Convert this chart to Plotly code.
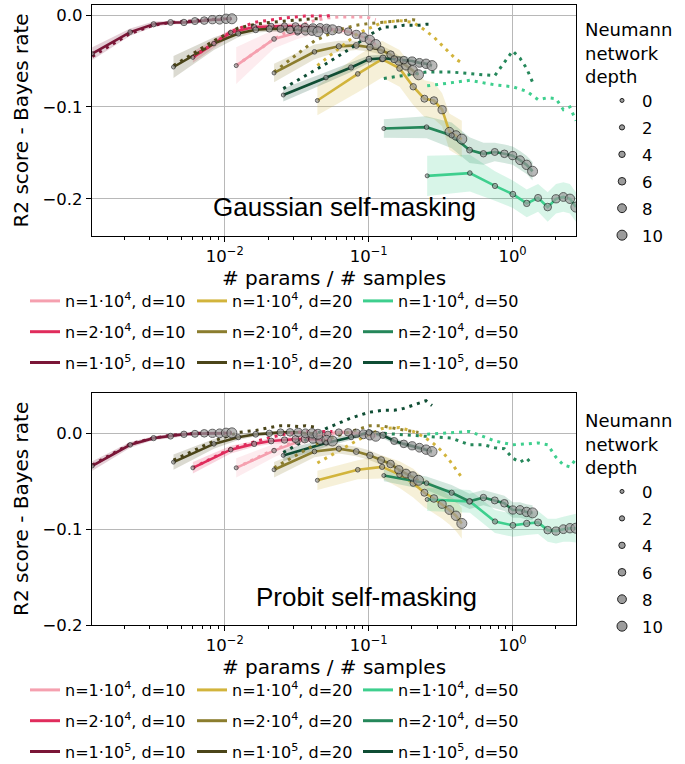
import plotly.graph_objects as go

# ---------------- data ----------------
DEPTHS = [0, 1, 2, 3, 4, 5, 6, 7, 8, 9, 10]
LEGEND_DEPTHS = [0, 2, 4, 6, 8, 10]

SERIES_LABELS = [
    "n=1·10<sup>4</sup>, d=10", "n=2·10<sup>4</sup>, d=10", "n=1·10<sup>5</sup>, d=10",
    "n=1·10<sup>4</sup>, d=20", "n=2·10<sup>4</sup>, d=20", "n=1·10<sup>5</sup>, d=20",
    "n=1·10<sup>4</sup>, d=50", "n=2·10<sup>4</sup>, d=50", "n=1·10<sup>5</sup>, d=50",
]
SERIES_COLORS = [
    "#f5a0af", "#e02c5c", "#7a1637",
    "#d2b43c", "#8b7d2e", "#4b4519",
    "#3ecf8e", "#25875a", "#0f4d34",
]

# x: # params / # samples for depths 0..10
X_D10_N1E4 = [0.012, 0.022, 0.032, 0.042, 0.052, 0.062, 0.072, 0.082, 0.092, 0.102, 0.112]
X_D10_N2E4 = [0.006, 0.011, 0.016, 0.021, 0.026, 0.031, 0.036, 0.041, 0.046, 0.051, 0.056]
X_D10_N1E5 = [0.0012, 0.0022, 0.0032, 0.0042, 0.0052, 0.0062, 0.0072, 0.0082, 0.0092, 0.0102, 0.0112]
X_D20_N1E4 = [0.044, 0.084, 0.124, 0.164, 0.204, 0.244, 0.284, 0.324, 0.364, 0.404, 0.444]
X_D20_N2E4 = [0.022, 0.042, 0.062, 0.082, 0.102, 0.122, 0.142, 0.162, 0.182, 0.202, 0.222]
X_D20_N1E5 = [0.0044, 0.0084, 0.0124, 0.0164, 0.0204, 0.0244, 0.0284, 0.0324, 0.0364, 0.0404, 0.0444]
X_D50_N1E4 = [0.255, 0.505, 0.755, 1.005, 1.255, 1.505, 1.755, 2.005, 2.255, 2.505, 2.755]
X_D50_N2E4 = [0.1275, 0.2525, 0.3775, 0.5025, 0.6275, 0.7525, 0.8775, 1.0025, 1.1275, 1.2525, 1.3775]
X_D50_N1E5 = [0.0255, 0.0505, 0.0755, 0.1005, 0.1255, 0.1505, 0.1755, 0.2005, 0.2255, 0.2505, 0.2755]

# Gaussian self-masking: Neumann network (solid) and dotted reference curves
G_D10_N1E4 = [-0.055, -0.026, -0.019, -0.016, -0.015, -0.016, -0.018, -0.021, -0.024, -0.027, -0.032]
G_D10_N2E4 = [-0.046, -0.019, -0.013, -0.012, -0.012, -0.012, -0.013, -0.014, -0.014, -0.015, -0.016]
G_D10_N1E5 = [-0.042, -0.0185, -0.010, -0.008, -0.008, -0.0065, -0.006, -0.005, -0.005, -0.004, -0.004]
G_D20_N1E4 = [-0.093, -0.064, -0.048, -0.058, -0.078, -0.091, -0.093, -0.103, -0.127, -0.131, -0.135]
G_D20_N2E4 = [-0.063, -0.040, -0.034, -0.033, -0.035, -0.038, -0.043, -0.050, -0.055, -0.060, -0.065]
G_D20_N1E5 = [-0.0565, -0.031, -0.020, -0.016, -0.015, -0.015, -0.016, -0.016, -0.017, -0.017, -0.018]
G_D50_N1E4 = [-0.175, -0.172, -0.186, -0.195, -0.205, -0.199, -0.209, -0.200, -0.198, -0.200, -0.209]
G_D50_N2E4 = [-0.1235, -0.122, -0.131, -0.147, -0.151, -0.149, -0.151, -0.153, -0.158, -0.163, -0.170]
G_D50_N1E5 = [-0.087, -0.068, -0.057, -0.048, -0.047, -0.048, -0.049, -0.050, -0.052, -0.053, -0.055]

G_ERR_D10_N1E4 = [0.020, 0.010, 0.007, 0.005, 0.004, 0.004, 0.004, 0.004, 0.005, 0.005, 0.006]
G_ERR_D10_N2E4 = [0.006, 0.004, 0.003, 0.003, 0.003, 0.003, 0.003, 0.003, 0.003, 0.003, 0.003]
G_ERR_D10_N1E5 = [0.007, 0.004, 0.003, 0.002, 0.002, 0.002, 0.002, 0.002, 0.002, 0.002, 0.002]
G_ERR_D20_N1E4 = [0.016, 0.020, 0.020, 0.020, 0.020, 0.020, 0.020, 0.018, 0.020, 0.020, 0.020]
G_ERR_D20_N2E4 = [0.010, 0.008, 0.006, 0.005, 0.005, 0.005, 0.005, 0.006, 0.006, 0.006, 0.006]
G_ERR_D20_N1E5 = [0.012, 0.007, 0.004, 0.003, 0.003, 0.003, 0.003, 0.003, 0.003, 0.003, 0.003]
G_ERR_D50_N1E4 = [0.022, 0.020, 0.016, 0.015, 0.015, 0.015, 0.016, 0.016, 0.016, 0.016, 0.016]
G_ERR_D50_N2E4 = [0.010, 0.012, 0.014, 0.014, 0.012, 0.010, 0.010, 0.010, 0.010, 0.010, 0.010]
G_ERR_D50_N1E5 = [0.007, 0.006, 0.005, 0.004, 0.004, 0.004, 0.004, 0.004, 0.004, 0.004, 0.004]

GD_D10_N1E4 = [-0.055, -0.026, -0.012, -0.006, -0.003, -0.002, -0.002, -0.002, -0.002, -0.003, -0.005]
GD_D10_N2E4 = [-0.046, -0.018, -0.008, -0.005, -0.003, -0.002, -0.001, -0.001, -0.001, -0.001, 0.000]
GD_D10_N1E5 = [-0.045, -0.020, -0.011, -0.008, -0.007, -0.006, -0.005, -0.005, -0.004, -0.004, -0.004]
GD_D20_N1E4 = [-0.055, -0.020, -0.008, -0.006, -0.008, -0.016, -0.024, -0.033, -0.042, -0.048, -0.052]
GD_D20_N2E4 = [-0.062, -0.028, -0.016, -0.011, -0.009, -0.008, -0.007, -0.006, -0.005, -0.005, -0.006]
GD_D20_N1E5 = [-0.055, -0.028, -0.014, -0.010, -0.008, -0.007, -0.006, -0.005, -0.004, -0.004, -0.004]
GD_D50_N1E4 = [-0.077, -0.071, -0.076, -0.078, -0.083, -0.092, -0.090, -0.091, -0.103, -0.100, -0.115]
GD_D50_N2E4 = [-0.069, -0.062, -0.062, -0.064, -0.065, -0.066, -0.052, -0.039, -0.047, -0.058, -0.073]
GD_D50_N1E5 = [-0.080, -0.053, -0.036, -0.022, -0.013, -0.013, -0.011, -0.011, -0.011, -0.010, -0.010]

# Probit self-masking
P_D10_N1E4 = [-0.036, -0.018, -0.009, -0.003, -0.001, 0.001, 0.001, 0.000, -0.001, -0.002, -0.003]
P_D10_N2E4 = [-0.036, -0.017, -0.011, -0.008, -0.007, -0.006, -0.006, -0.006, -0.007, -0.007, -0.008]
P_D10_N1E5 = [-0.034, -0.012, -0.005, -0.003, -0.001, -0.0005, 0.000, 0.000, 0.000, 0.0005, 0.0005]
P_D20_N1E4 = [-0.049, -0.038, -0.035, -0.043, -0.052, -0.062, -0.068, -0.074, -0.080, -0.086, -0.094]
P_D20_N2E4 = [-0.038, -0.019, -0.016, -0.019, -0.023, -0.028, -0.032, -0.038, -0.042, -0.045, -0.049]
P_D20_N1E5 = [-0.030, -0.011, -0.004, -0.001, 0.000, 0.001, 0.001, 0.001, 0.000, 0.000, -0.001]
P_D50_N1E4 = [-0.069, -0.071, -0.092, -0.096, -0.094, -0.093, -0.101, -0.102, -0.100, -0.099, -0.099]
P_D50_N2E4 = [-0.044, -0.052, -0.062, -0.071, -0.067, -0.070, -0.073, -0.080, -0.080, -0.082, -0.083]
P_D50_N1E5 = [-0.023, -0.010, -0.004, 0.001, -0.002, -0.008, -0.011, -0.013, -0.015, -0.017, -0.019]

P_ERR_D10_N1E4 = [0.010, 0.007, 0.005, 0.004, 0.003, 0.003, 0.003, 0.003, 0.003, 0.003, 0.003]
P_ERR_D10_N2E4 = [0.006, 0.004, 0.003, 0.003, 0.003, 0.003, 0.003, 0.003, 0.003, 0.003, 0.003]
P_ERR_D10_N1E5 = [0.005, 0.003, 0.002, 0.002, 0.002, 0.002, 0.002, 0.002, 0.002, 0.002, 0.002]
P_ERR_D20_N1E4 = [0.010, 0.010, 0.012, 0.014, 0.015, 0.015, 0.015, 0.015, 0.015, 0.016, 0.016]
P_ERR_D20_N2E4 = [0.008, 0.006, 0.005, 0.005, 0.005, 0.005, 0.005, 0.005, 0.005, 0.005, 0.005]
P_ERR_D20_N1E5 = [0.008, 0.005, 0.003, 0.002, 0.002, 0.002, 0.002, 0.002, 0.002, 0.002, 0.002]
P_ERR_D50_N1E4 = [0.012, 0.012, 0.012, 0.012, 0.012, 0.012, 0.012, 0.013, 0.013, 0.014, 0.015]
P_ERR_D50_N2E4 = [0.006, 0.007, 0.008, 0.008, 0.008, 0.008, 0.008, 0.008, 0.008, 0.008, 0.008]
P_ERR_D50_N1E5 = [0.006, 0.004, 0.003, 0.003, 0.003, 0.003, 0.003, 0.003, 0.003, 0.003, 0.003]

PD_D10_N1E4 = [-0.036, -0.017, -0.008, -0.003, 0.000, 0.001, 0.001, 0.000, 0.000, -0.001, -0.002]
PD_D10_N2E4 = [-0.036, -0.016, -0.009, -0.004, -0.001, 0.001, 0.002, 0.002, 0.002, 0.002, 0.002]
PD_D10_N1E5 = [-0.033, -0.011, -0.005, -0.002, -0.001, 0.000, 0.000, 0.000, 0.000, 0.000, 0.000]
PD_D20_N1E4 = [-0.031, -0.007, 0.005, 0.006, 0.002, -0.004, -0.011, -0.019, -0.028, -0.037, -0.046]
PD_D20_N2E4 = [-0.036, -0.012, -0.002, 0.004, 0.008, 0.008, 0.006, 0.004, 0.003, 0.002, 0.001]
PD_D20_N1E5 = [-0.028, -0.008, 0.001, 0.003, 0.006, 0.008, 0.008, 0.007, 0.008, 0.007, 0.006]
PD_D50_N1E4 = [-0.001, 0.002, -0.008, -0.012, -0.011, -0.010, -0.012, -0.025, -0.033, -0.035, -0.027]
PD_D50_N2E4 = [0.000, -0.003, -0.005, -0.012, -0.012, -0.015, -0.016, -0.026, -0.030, -0.026, -0.033]
PD_D50_N1E5 = [-0.020, 0.005, 0.016, 0.022, 0.024, 0.024, 0.026, 0.029, 0.032, 0.034, 0.029]

X_TICK_VALS = [0.01, 0.1, 1]
X_TICK_TEXT = ["10<sup>−2</sup>", "10<sup>−1</sup>", "10<sup>0</sup>"]
X_MINOR_TICKS = [m * 10.0 ** e for e in (-3, -2, -1, 0) for m in range(2, 10)]
Y_TICK_VALS = [0.0, -0.1, -0.2]

PANELS = [
    dict(title="Gaussian self-masking",
         solid=[G_D10_N1E4, G_D10_N2E4, G_D10_N1E5, G_D20_N1E4, G_D20_N2E4, G_D20_N1E5, G_D50_N1E4, G_D50_N2E4, G_D50_N1E5],
         err=[G_ERR_D10_N1E4, G_ERR_D10_N2E4, G_ERR_D10_N1E5, G_ERR_D20_N1E4, G_ERR_D20_N2E4, G_ERR_D20_N1E5, G_ERR_D50_N1E4, G_ERR_D50_N2E4, G_ERR_D50_N1E5],
         dotted=[GD_D10_N1E4, GD_D10_N2E4, GD_D10_N1E5, GD_D20_N1E4, GD_D20_N2E4, GD_D20_N1E5, GD_D50_N1E4, GD_D50_N2E4, GD_D50_N1E5]),
    dict(title="Probit self-masking",
         solid=[P_D10_N1E4, P_D10_N2E4, P_D10_N1E5, P_D20_N1E4, P_D20_N2E4, P_D20_N1E5, P_D50_N1E4, P_D50_N2E4, P_D50_N1E5],
         err=[P_ERR_D10_N1E4, P_ERR_D10_N2E4, P_ERR_D10_N1E5, P_ERR_D20_N1E4, P_ERR_D20_N2E4, P_ERR_D20_N1E5, P_ERR_D50_N1E4, P_ERR_D50_N2E4, P_ERR_D50_N1E5],
         dotted=[PD_D10_N1E4, PD_D10_N2E4, PD_D10_N1E5, PD_D20_N1E4, PD_D20_N2E4, PD_D20_N1E5, PD_D50_N1E4, PD_D50_N2E4, PD_D50_N1E5]),
]
XS = [X_D10_N1E4, X_D10_N2E4, X_D10_N1E5, X_D20_N1E4, X_D20_N2E4, X_D20_N1E5, X_D50_N1E4, X_D50_N2E4, X_D50_N1E5]

# ---------------- styling ----------------
FONT = "DejaVu Sans"
MARKER_FILL = "#9c9c9c"
MARKER_EDGE = "#222222"


def msize(depth):
    return 4 + 0.6 * depth


def rgba(hexc, a):
    h = hexc.lstrip("#")
    return "rgba(%d,%d,%d,%.2f)" % (int(h[0:2], 16), int(h[2:4], 16), int(h[4:6], 16), a)


fig = go.Figure()

for p, panel in enumerate(PANELS):
    xa = "x" if p == 0 else "x2"
    ya = "y" if p == 0 else "y2"
    # bands
    for i in range(9):
        xs, ys, es = XS[i], panel["solid"][i], panel["err"][i]
        upper = [y + e for y, e in zip(ys, es)]
        lower = [y - e for y, e in zip(ys, es)]
        fig.add_trace(go.Scatter(x=xs + xs[::-1], y=upper + lower[::-1], fill="toself",
                                 fillcolor=rgba(SERIES_COLORS[i], 0.2), line=dict(width=0),
                                 mode="lines", showlegend=False, hoverinfo="skip",
                                 xaxis=xa, yaxis=ya))
    # solid lines
    for i in range(9):
        fig.add_trace(go.Scatter(x=XS[i], y=panel["solid"][i], mode="lines",
                                 line=dict(color=SERIES_COLORS[i], width=2.6),
                                 showlegend=False, xaxis=xa, yaxis=ya))
    # dotted lines
    for i in range(9):
        fig.add_trace(go.Scatter(x=XS[i], y=panel["dotted"][i], mode="lines",
                                 line=dict(color=SERIES_COLORS[i], width=3, dash="3px,5px"),
                                 showlegend=False, xaxis=xa, yaxis=ya))
    # depth markers
    for i in range(9):
        fig.add_trace(go.Scatter(x=XS[i], y=panel["solid"][i], mode="markers",
                                 marker=dict(size=[msize(d) for d in DEPTHS], color=MARKER_FILL,
                                             line=dict(color=MARKER_EDGE, width=1)),
                                 showlegend=False, xaxis=xa, yaxis=ya))

    # legend entries (3 columns by d)
    for i in range(9):
        leg_idx = p * 3 + i // 3 + 1
        fig.add_trace(go.Scatter(x=[None], y=[None], mode="lines",
                                 line=dict(color=SERIES_COLORS[i], width=3),
                                 name=SERIES_LABELS[i],
                                 legend="legend" if leg_idx == 1 else "legend%d" % leg_idx,
                                 legendgroup="s%d_%d" % (p, i), showlegend=True,
                                 xaxis=xa, yaxis=ya))
    # depth legend
    for d in LEGEND_DEPTHS:
        fig.add_trace(go.Scatter(x=[None], y=[None], mode="markers",
                                 marker=dict(size=msize(d), color=MARKER_FILL,
                                             line=dict(color=MARKER_EDGE, width=1)),
                                 name=str(d), legend="legend%d" % (7 + p),
                                 legendgroup="d%d_%d" % (p, d), showlegend=True,
                                 xaxis=xa, yaxis=ya))

axis_common = dict(showline=True, linecolor="black", linewidth=1.3, mirror=True,
                   ticks="outside", ticklen=5, tickwidth=1.2, tickcolor="black",
                   showgrid=True, gridcolor="#b8b8b8", gridwidth=1, zeroline=False,
                   automargin=False,
                   tickfont=dict(family=FONT, size=16.5, color="black"))

xaxis_common = dict(axis_common, type="log", range=[-2.923, 0.441],
                    tickmode="array", tickvals=X_TICK_VALS, ticktext=X_TICK_TEXT,
                    minor=dict(tickmode="array", tickvals=X_MINOR_TICKS, ticks="outside",
                               ticklen=3, tickwidth=1, tickcolor="black", showgrid=False),
                    title=dict(text="# params / # samples", font=dict(family=FONT, size=20, color="black"),
                               standoff=0))
yaxis_common = dict(axis_common, tickmode="array", tickvals=Y_TICK_VALS, tickformat=".1f",
                    title=dict(text="R2 score - Bayes rate", font=dict(family=FONT, size=20, color="black"),
                               standoff=8))

series_leg = dict(xanchor="left", yanchor="top", bgcolor="rgba(0,0,0,0)",
                  font=dict(family=FONT, size=16, color="black"), tracegroupgap=7)
col_x = [(25 - 92) / 484, (192 - 92) / 484, (358 - 92) / 484]
top_leg_y = (625 - 284) / 620
bot_leg_y = (625 - 673) / 620

depth_leg = dict(xanchor="left", yanchor="top", bgcolor="rgba(0,0,0,0)",
                 font=dict(family=FONT, size=16.5, color="black"), tracegroupgap=2.5,
                 indentation=19,
                 title=dict(text="Neumann<br>network<br>depth", side="top",
                            font=dict(family=FONT, size=18, color="black")))
depth_x = (583 - 92) / 484

fig.update_layout(
    width=685, height=764,
    margin=dict(l=92, r=109, t=5, b=139, autoexpand=False),
    paper_bgcolor="white", plot_bgcolor="white",
    font=dict(family=FONT, size=16, color="black"),
    xaxis=dict(xaxis_common, domain=[0, 1], anchor="y"),
    yaxis=dict(yaxis_common, domain=[(625 - 236) / 620, 1], range=[-0.2405, 0.011], anchor="x"),
    xaxis2=dict(xaxis_common, domain=[0, 1], anchor="y2"),
    yaxis2=dict(yaxis_common, domain=[0, (625 - 392.7) / 620], range=[-0.2, 0.0424], anchor="x2"),
    legend=dict(series_leg, x=col_x[0], y=top_leg_y),
    legend2=dict(series_leg, x=col_x[1], y=top_leg_y),
    legend3=dict(series_leg, x=col_x[2], y=top_leg_y),
    legend4=dict(series_leg, x=col_x[0], y=bot_leg_y),
    legend5=dict(series_leg, x=col_x[1], y=bot_leg_y),
    legend6=dict(series_leg, x=col_x[2], y=bot_leg_y),
    legend7=dict(depth_leg, x=depth_x, y=(625 - 13) / 620),
    legend8=dict(depth_leg, x=depth_x, y=(625 - 404) / 620),
    annotations=[
        dict(text=PANELS[0]["title"], xref="paper", yref="paper", x=(344 - 92) / 484, y=(625 - 207) / 620,
             xanchor="center", yanchor="middle", showarrow=False,
             font=dict(family="Liberation Sans", size=26, color="black")),
        dict(text=PANELS[1]["title"], xref="paper", yref="paper", x=(366 - 92) / 484, y=(625 - 597) / 620,
             xanchor="center", yanchor="middle", showarrow=False,
             font=dict(family="Liberation Sans", size=26, color="black")),
    ],
    showlegend=True,
)

fig.write_html("out.html", config={"displayModeBar": False},
               post_script="document.body.style.margin='0px';")
